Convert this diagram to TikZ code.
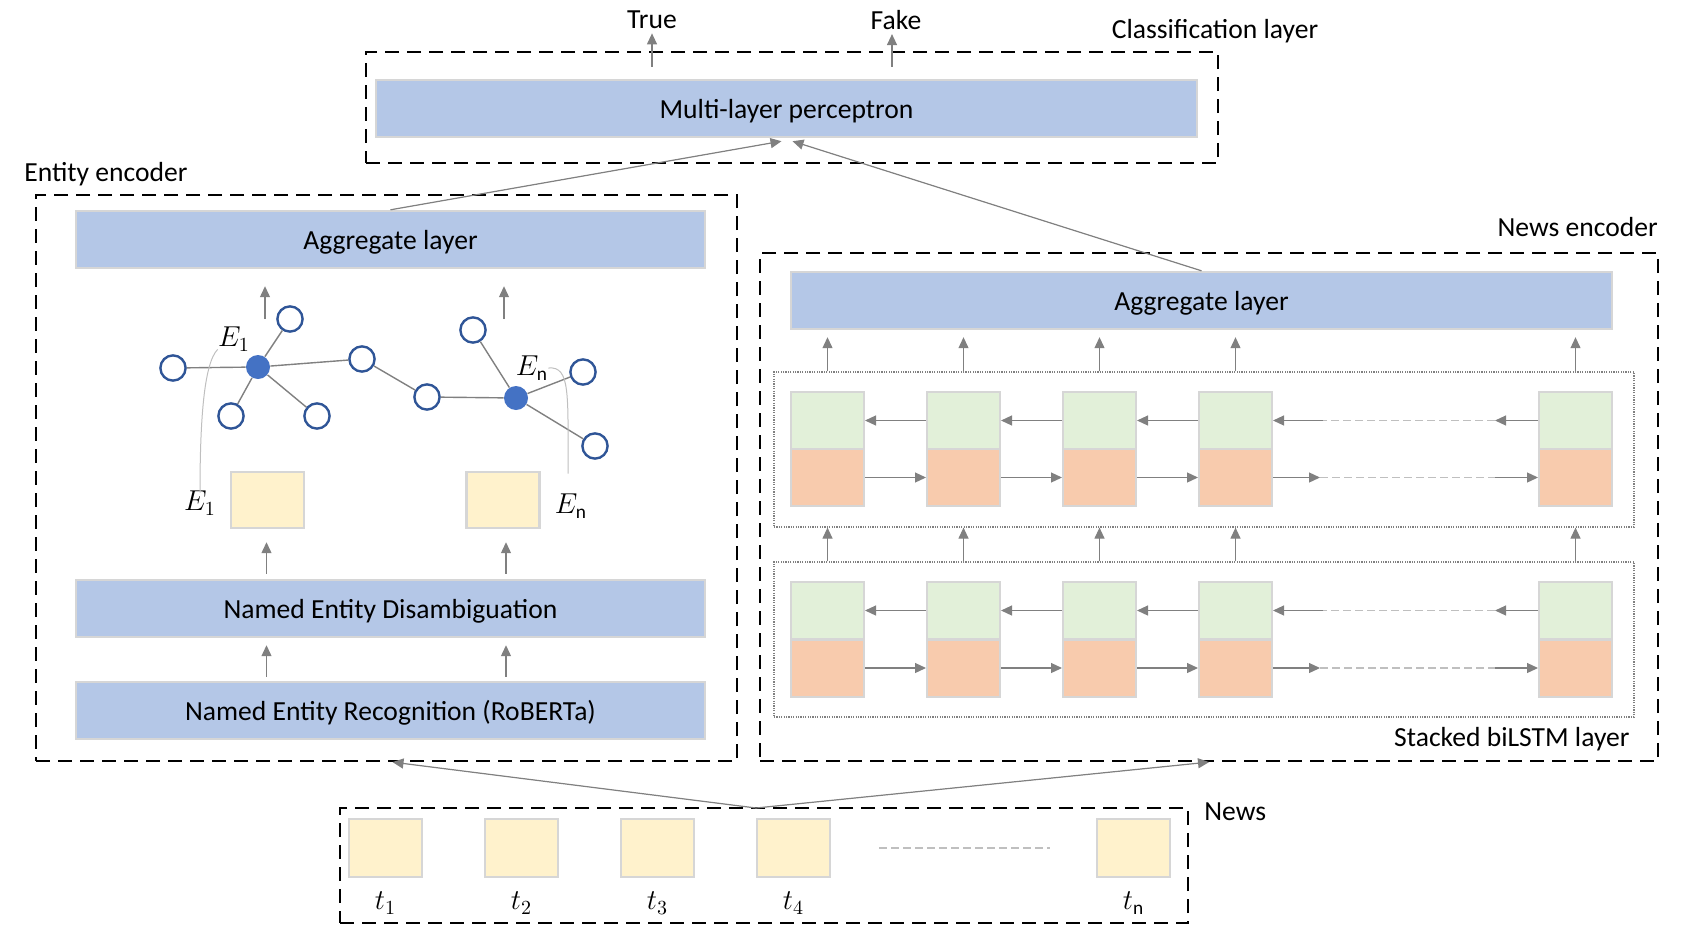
\documentclass[tikz,border=0pt]{standalone}
\usepackage{fontspec}
\setmainfont{Carlito}
\usepackage{tikz}
\usetikzlibrary{arrows.meta,calc}
\definecolor{layerblue}{HTML}{B4C7E7}
\definecolor{boxedge}{HTML}{D6D6D6}
\definecolor{tokyellow}{HTML}{FFF2CC}
\definecolor{cellgreen}{HTML}{E2F0D9}
\definecolor{cellorange}{HTML}{F8CBAD}
\definecolor{nodeblue}{HTML}{4472C4}
\definecolor{ringblue}{HTML}{2F5597}
\definecolor{arrgray}{HTML}{808080}
\definecolor{faintgray}{HTML}{BFBFBF}
\begin{document}
\begin{tikzpicture}[x=0.5pt, y=-0.5pt,
  every node/.style={font=\fontsize{13.8}{16}\selectfont},
  txt/.style={inner sep=1pt},
  dashbox/.style={draw=black, line width=1.1pt, dash pattern=on 7pt off 4pt, inner sep=0pt},
  dotbox/.style={draw=arrgray, line width=0.6pt, dash pattern=on 0.6pt off 0.6pt, inner sep=0pt, minimum width=430pt, minimum height=77.5pt},
  layer/.style={draw=boxedge, line width=1.2pt, fill=layerblue, inner sep=0pt, minimum height=28.5pt, text depth=0pt},
  token/.style={draw=boxedge, line width=1.2pt, fill=tokyellow, inner sep=0pt, minimum width=36.5pt, minimum height=28.5pt},
  cellg/.style={draw=boxedge, line width=1pt, fill=cellgreen, inner sep=0pt, minimum width=36.5pt, minimum height=28.5pt},
  cello/.style={draw=boxedge, line width=1pt, fill=cellorange, inner sep=0pt, minimum width=36.5pt, minimum height=28.5pt},
  ring/.style={circle, draw=ringblue, line width=1.2pt, fill=white, inner sep=0pt, minimum size=12.6pt},
  hub/.style={circle, fill=nodeblue, inner sep=0pt, minimum size=12pt},
  edge/.style={draw=arrgray, line width=0.7pt},
  arr/.style={draw=arrgray, line width=0.6pt, -{Triangle[length=5.5pt,width=5pt]}, fill=arrgray},
  gapline/.style={draw=faintgray, line width=0.6pt, dash pattern=on 4pt off 2pt},
  faint/.style={draw=faintgray, line width=0.5pt}]
\useasboundingbox (0,0) rectangle (1696,937);

\node[dashbox, minimum width=426pt, minimum height=55.5pt] (clsbox) at (792,107.5) {};
\node[layer, minimum width=410.5pt] (mlp) at (786.5,108.5) {Multi-layer perceptron};
\node[txt] (true) at (652,20) {True};
\node[txt] (fake) at (896,20) {Fake};
\node[txt] (clslabel) at (1215,31) {Classification layer};
\draw[arr] ($(mlp.north -| true)+(0,-12)$) -- ($(true.south)+(0,2)$);
\draw[arr] ($(mlp.north -| fake)+(-4,-12)$) -- ($(fake.south)+(-4,2)$);

\node[dashbox, minimum width=350.5pt, minimum height=283pt] (entbox) at (386.5,478) {};
\node[txt, anchor=west] (entlabel) at (22,174) {Entity encoder};
\node[layer, minimum width=314.5pt] (lagg) at (390.5,239.5) {Aggregate layer};
\node[layer, minimum width=314.5pt] (ned) at (390.5,608.5) {Named Entity Disambiguation};
\node[layer, minimum width=314.5pt] (ner) at (390.5,710.5) {Named Entity Recognition (RoBERTa)};
\node[token, minimum height=28pt] (ent1) at (267.5,500) {};
\node[token, minimum height=28pt] (entn) at (503,500) {};
\draw[arr] ($(ner.north -| ent1)+(-1,-4)$) -- ($(ned.south -| ent1)+(-1,7)$);
\draw[arr] ($(ner.north -| entn)+(3,-4)$) -- ($(ned.south -| entn)+(3,7)$);
\draw[arr] ($(ned.north -| ent1)+(-1,-5)$) -- ($(ent1.south)+(-1,13)$);
\draw[arr] ($(ned.north -| entn)+(3,-5)$) -- ($(entn.south)+(3,13)$);

\node[hub] (e1) at (258,367) {};
\node[hub] (en) at (516,398) {};
\node[ring] (r1) at (173,368) {};
\node[ring] (r2) at (290,319) {};
\node[ring] (r3) at (231,416) {};
\node[ring] (r4) at (317,416) {};
\node[ring] (r5) at (362,359) {};
\node[ring] (r6) at (427,397) {};
\node[ring] (r7) at (473,330) {};
\node[ring] (r8) at (583,372) {};
\node[ring] (r9) at (595,446) {};
\foreach \a/\b in {e1/r1, e1/r2, e1/r3, e1/r4, e1/r5, r5/r6, r6/en, en/r7, en/r8, en/r9}
  \draw[edge] (\a) -- (\b);
\coordinate (gup1) at (265,319);
\coordinate (gupn) at (504,319);
\draw[arr] (gup1) -- ($(lagg.south -| gup1)+(0,17)$);
\draw[arr] (gupn) -- ($(lagg.south -| gupn)+(0,17)$);
\node[txt] (e1up) at (234,339) {$E_1$};
\node[txt] (enup) at (532,368) {$E_{\mathrm{n}}$};
\node[txt] (e1low) at (200,503) {$E_1$};
\node[txt] (enlow) at (571,506) {$E_{\mathrm{n}}$};
\draw[faint] ($(e1up.south west)+(2,-4)$) .. controls +(-14,14) and +(0,-70) .. ($(e1low.north)+(0,4)$);
\draw[faint] ($(enup.east)+(-2,0)$) .. controls +(22,-2) and +(0,-80) .. ($(enlow.north)+(-3,-18)$);

\node[dashbox, minimum width=449pt, minimum height=254pt] (newsenc) at (1209,507) {};
\node[txt, anchor=east] (newslabel) at (1660,227) {News encoder};
\node[layer, minimum width=410.5pt] (ragg) at (1201.5,300.5) {Aggregate layer};
\node[dotbox] (lstm1) at (1204,639.5) {};
\node[dotbox] (lstm2) at (1204,449.5) {};
\node[txt, anchor=east] (stacklabel) at (1632,739) {Stacked biLSTM layer};
\foreach \L/\yg/\yo in {1/610.5/668, 2/420.5/477.5} {
  \foreach \k/\x in {1/827.5, 2/963.5, 3/1099.5, 4/1235.5, 5/1575.5} {
    \node[cellg] (g\L\k) at (\x,\yg) {};
    \node[cello] (o\L\k) at (\x,\yo) {};
  }
  \foreach \k/\j in {1/2, 2/3, 3/4} {
    \draw[arr] (g\L\j.west) -- (g\L\k.east);
    \draw[arr] (o\L\k.east) -- (o\L\j.west);
  }
  \coordinate (bg\L) at ($(g\L5.west)+(-43,0)$);
  \coordinate (bh\L) at ($(g\L4.east)+(50,0)$);
  \coordinate (fh\L) at ($(o\L4.east)+(47,0)$);
  \coordinate (fg\L) at ($(o\L5.west)+(-43,0)$);
  \draw[arr] (g\L5.west) -- (bg\L);
  \draw[gapline] (bg\L) -- (bh\L);
  \draw[arr] (bh\L) -- (g\L4.east);
  \draw[arr] (o\L4.east) -- (fh\L);
  \draw[gapline] (fh\L) -- (fg\L);
  \draw[arr] (fg\L) -- (o\L5.west);
}
\foreach \k in {1,...,5} {
  \draw[arr] (g1\k |- lstm1.north) -- (g1\k |- lstm2.south);
  \draw[arr] (g2\k |- lstm2.north) -- ($(g2\k |- ragg.south)+(0,7)$);
}

\node[dashbox, minimum width=424pt, minimum height=57.5pt] (newsbox) at (764,865.5) {};
\node[txt, anchor=west] (newsin) at (1202,812) {News};
\foreach \k/\x/\tokname in {1/385.5/t_1, 2/521.5/t_2, 3/657.5/t_3, 4/793.5/t_4, n/1133.5/t_{\mathrm{n}}} {
  \node[token, minimum height=29pt] (tok\k) at (\x,848) {};
  \node[txt] (lab\k) at (\x,903) {$\tokname$};
}
\draw[gapline] ($(tok4.east)+(48,0)$) -- ($(tokn.west)+(-46,0)$);
\coordinate (split) at (756,808);
\draw[arr] (split) -- ($(entbox.south)+(6,0)$);
\draw[arr] (split) -- (newsenc.south);
\draw[arr] (lagg.north) -- ($(mlp.south)+(-5,3)$);
\draw[arr] (ragg.north) -- ($(mlp.south)+(6,3)$);
\end{tikzpicture}
\end{document}
